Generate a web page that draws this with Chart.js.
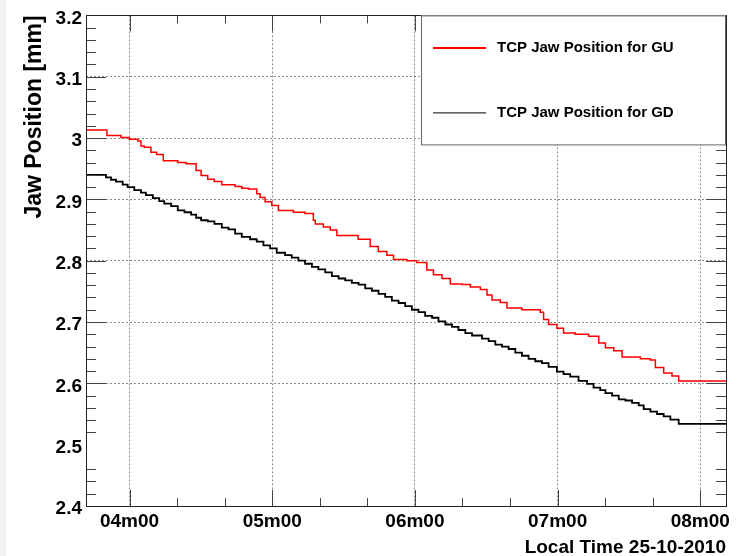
<!DOCTYPE html>
<html>
<head>
<meta charset="utf-8">
<title>TCP Jaw Position</title>
<script src="https://cdn.jsdelivr.net/npm/chart.js@4.4.1/dist/chart.umd.min.js"></script>
<style>
    html, body { margin: 0; padding: 0; background: #fff; }
    #wrap { width: 742px; height: 556px; }
</style>
</head>
<body>
<div id="wrap"><canvas id="jawChart"></canvas></div>
<script>
// Jaw positions (mm) against local time, in minutes after midnight on 25-10-2010
const guTimes = [221.7, 230.5, 236.4, 239.9, 243.5, 244.8, 246.2, 249.0, 251.4, 254.2,
    260.3, 263.8, 268.0, 270.1, 272.9, 275.6, 278.8, 284.4, 287.2, 290.0,
    293.5, 294.9, 297.0, 299.8, 302.6, 308.9, 313.8, 317.3, 318.1, 321.5,
    324.4, 327.2, 336.1, 341.2, 344.6, 348.2, 351.0, 356.6, 360.8, 365.0,
    367.8, 371.4, 374.9, 379.8, 383.3, 387.5, 390.3, 392.4, 395.9, 398.7,
    405.0, 412.7, 414.1, 416.2, 419.7, 422.5, 427.4, 433.0, 437.3, 440.1,
    443.6, 447.1, 454.8, 459.0, 461.1, 464.6, 468.1, 470.9, 490.8];
const guValues = [3.013, 3.004, 3.001, 2.998, 2.995, 2.987, 2.985, 2.977, 2.973, 2.963,
    2.960, 2.958, 2.947, 2.939, 2.933, 2.929, 2.924, 2.921, 2.918, 2.917,
    2.909, 2.903, 2.896, 2.890, 2.882, 2.879, 2.877, 2.866, 2.860, 2.855,
    2.850, 2.841, 2.835, 2.823, 2.815, 2.809, 2.802, 2.800, 2.797, 2.785,
    2.777, 2.771, 2.762, 2.761, 2.757, 2.753, 2.744, 2.736, 2.732, 2.723,
    2.720, 2.716, 2.704, 2.696, 2.690, 2.682, 2.680, 2.677, 2.666, 2.658,
    2.653, 2.643, 2.640, 2.638, 2.626, 2.617, 2.612, 2.604, 2.604];

const gdTimes = [221.7, 230.1, 232.2, 234.3, 237.1, 239.2, 242.0, 244.8, 246.9, 249.8,
    252.5, 254.6, 257.5, 260.3, 263.1, 265.9, 268.0, 270.1, 272.9, 275.7,
    278.8, 281.6, 284.4, 287.2, 290.7, 293.5, 296.3, 299.1, 301.9, 305.4,
    308.2, 311.0, 313.8, 316.7, 319.4, 322.3, 325.1, 327.9, 330.7, 333.5,
    336.3, 339.1, 341.9, 344.7, 347.5, 350.3, 353.1, 355.9, 358.7, 361.5,
    364.3, 367.2, 369.9, 372.8, 375.6, 378.3, 381.2, 384.0, 388.2, 391.0,
    393.8, 396.6, 399.4, 402.2, 405.0, 407.8, 410.6, 413.4, 416.2, 419.7,
    422.5, 425.3, 428.8, 432.4, 435.1, 437.9, 440.1, 442.9, 445.7, 448.5,
    451.3, 454.1, 456.2, 459.0, 461.8, 464.6, 467.4, 470.9, 480.0, 490.8];
const gdValues = [2.940, 2.936, 2.932, 2.929, 2.924, 2.920, 2.915, 2.911, 2.907, 2.902,
    2.897, 2.893, 2.889, 2.882, 2.879, 2.875, 2.870, 2.866, 2.864, 2.860,
    2.854, 2.851, 2.844, 2.839, 2.835, 2.831, 2.825, 2.820, 2.813, 2.809,
    2.805, 2.800, 2.795, 2.790, 2.786, 2.781, 2.775, 2.771, 2.768, 2.764,
    2.761, 2.755, 2.751, 2.746, 2.741, 2.735, 2.731, 2.726, 2.720, 2.716,
    2.710, 2.707, 2.701, 2.696, 2.692, 2.687, 2.682, 2.678, 2.673, 2.669,
    2.663, 2.660, 2.656, 2.650, 2.645, 2.640, 2.636, 2.633, 2.627, 2.619,
    2.615, 2.611, 2.604, 2.599, 2.593, 2.589, 2.584, 2.580, 2.574, 2.572,
    2.568, 2.564, 2.558, 2.554, 2.550, 2.546, 2.541, 2.534, 2.534, 2.533];

// axis ticks
const hourTicks = [240, 300, 360, 420, 480];
const hourLabels = ['04m00', '05m00', '06m00', '07m00', '08m00'];
const yTicks = [2.4, 2.5, 2.6, 2.7, 2.8, 2.9, 3.0, 3.1, 3.2];
const yLabels = ['2.4', '2.5', '2.6', '2.7', '2.8', '2.9', '3', '3.1', '3.2'];

const X_MIN = 221.7, X_MAX = 490.8;
const Y_MIN = 2.4, Y_MAX = 3.2;
const Y_MINOR = 0.02, X_MINOR = 20;

const FONT = '"Liberation Sans", Arial, sans-serif';

function toPoints(times, values) {
    return times.map((t, i) => ({ x: t, y: values[i] }));
}

// white page with the faint grey strip on the left
const background = {
    id: 'background',
    beforeDraw(chart) {
        const ctx = chart.ctx;
        ctx.save();
        ctx.fillStyle = '#ffffff';
        ctx.fillRect(0, 0, chart.width, chart.height);
        ctx.fillStyle = '#f3f3f3';
        ctx.fillRect(0, 0, 6, chart.height);
        ctx.restore();
    }
};

// ROOT style frame with ticks pointing inwards
const frameTicks = {
    id: 'frameTicks',
    afterDatasetsDraw(chart) {
        const { ctx, chartArea: a, scales: { x, y } } = chart;
        ctx.save();
        ctx.strokeStyle = '#444';
        ctx.lineWidth = 1;
        ctx.beginPath();
        const n = Math.round((Y_MAX - Y_MIN) / Y_MINOR);
        for (let i = 0; i <= n; i++) {
            const v = Y_MIN + i * Y_MINOR;
            if (i === 4 || i === 5) continue; // not visible in the original
            const py = Math.round(y.getPixelForValue(v)) + 0.5;
            const len = i % 5 === 0 ? 20 : 10;
            ctx.moveTo(a.left, py); ctx.lineTo(a.left + len, py);
            ctx.moveTo(a.right, py); ctx.lineTo(a.right - len, py);
        }
        for (let m = 180; m <= 500; m += X_MINOR) {
            if (m < x.min || m > x.max) continue;
            const px = Math.round(x.getPixelForValue(m)) + 0.5;
            const len = m % 60 === 0 ? 16 : 8;
            ctx.moveTo(px, a.bottom); ctx.lineTo(px, a.bottom - len);
            ctx.moveTo(px, a.top); ctx.lineTo(px, a.top + len);
        }
        ctx.stroke();
        ctx.strokeStyle = '#222';
        ctx.strokeRect(Math.round(a.left) + 0.5, Math.round(a.top) + 0.5,
            Math.round(a.right - a.left), Math.round(a.bottom - a.top));
        ctx.restore();
    }
};

// legend box in the top right corner of the frame
const frameLegend = {
    id: 'frameLegend',
    afterDraw(chart) {
        const { ctx, chartArea: a } = chart;
        const left = a.left + 335, top = a.top, right = a.right, bottom = a.top + 129;
        ctx.save();
        ctx.fillStyle = '#fff';
        ctx.fillRect(left, top, right - left, bottom - top);
        ctx.strokeStyle = '#666';
        ctx.lineWidth = 1;
        ctx.strokeRect(left + 0.5, top + 0.5, right - left - 1, bottom - top);
        const rows = [top + 32, top + 97];
        chart.data.datasets.forEach((ds, i) => {
            const ry = rows[i] + 0.5;
            ctx.strokeStyle = ds.borderColor;
            ctx.lineWidth = i === 0 ? 2 : 1;
            ctx.beginPath();
            ctx.moveTo(left + 12, ry);
            ctx.lineTo(left + 65, ry);
            ctx.stroke();
            ctx.fillStyle = '#000';
            ctx.font = 'bold 15px ' + FONT;
            ctx.textBaseline = 'middle';
            ctx.fillText(ds.label, left + 76, ry);
        });
        ctx.restore();
    }
};

const ctx = document.getElementById('jawChart').getContext('2d');
new Chart(ctx, {
    type: 'line',
    data: {
        datasets: [
            {
                label: 'TCP Jaw Position for GU',
                data: toPoints(guTimes, guValues),
                borderColor: '#ff0000',
                borderWidth: 1.5,
                stepped: 'before',
                pointRadius: 0,
                fill: false
            },
            {
                label: 'TCP Jaw Position for GD',
                data: toPoints(gdTimes, gdValues),
                borderColor: '#000000',
                borderWidth: 1.8,
                stepped: 'before',
                pointRadius: 0,
                fill: false
            }
        ]
    },
    options: {
        responsive: true,
        maintainAspectRatio: false,
        animation: false,
        layout: { padding: { top: 12, right: 16, bottom: 0, left: 0 } },
        plugins: {
            legend: { display: false },
            tooltip: { enabled: false }
        },
        scales: {
            x: {
                type: 'linear',
                min: X_MIN,
                max: X_MAX,
                afterFit: (scale) => { scale.height = 50; },
                afterBuildTicks: (scale) => { scale.ticks = hourTicks.map(v => ({ value: v })); },
                ticks: {
                    autoSkip: false,
                    maxRotation: 0,
                    padding: 4,
                    color: '#000',
                    font: { family: FONT, size: 19, weight: 'bold' },
                    callback: (value, index) => hourLabels[index]
                },
                grid: { color: 'rgba(0,0,0,0.45)', lineWidth: 1, drawTicks: false },
                border: { display: false, dash: [2, 2] },
                title: {
                    display: true,
                    text: 'Local Time 25-10-2010',
                    align: 'end',
                    color: '#000',
                    font: { family: FONT, size: 19, weight: 'bold', lineHeight: 1 },
                    padding: { top: 0, bottom: -1 }
                }
            },
            y: {
                min: Y_MIN,
                max: Y_MAX,
                afterFit: (scale) => { scale.width = 86; },
                afterBuildTicks: (scale) => { scale.ticks = yTicks.map(v => ({ value: v })); },
                ticks: {
                    padding: 4,
                    labelOffset: 3,
                    color: '#000',
                    font: { family: FONT, size: 19, weight: 'bold' },
                    callback: (value, index) => yLabels[index]
                },
                grid: {
                    lineWidth: 1,
                    drawTicks: false,
                    color: (c) => {
                        const v = c.tick ? c.tick.value : 0;
                        if (Math.abs(v - 2.4) < 1e-6 || Math.abs(v - 2.5) < 1e-6 || Math.abs(v - 3.2) < 1e-6) {
                            return 'rgba(0,0,0,0)';
                        }
                        return 'rgba(0,0,0,0.45)';
                    }
                },
                border: { display: false, dash: [2, 2] },
                title: {
                    display: true,
                    text: 'Jaw Position [mm]',
                    align: 'end',
                    color: '#000',
                    font: { family: FONT, size: 23, weight: 'bold', lineHeight: 1 },
                    padding: { top: 23.5, bottom: 0 }
                }
            }
        }
    },
    plugins: [background, frameTicks, frameLegend]
});
</script>
</body>
</html>
